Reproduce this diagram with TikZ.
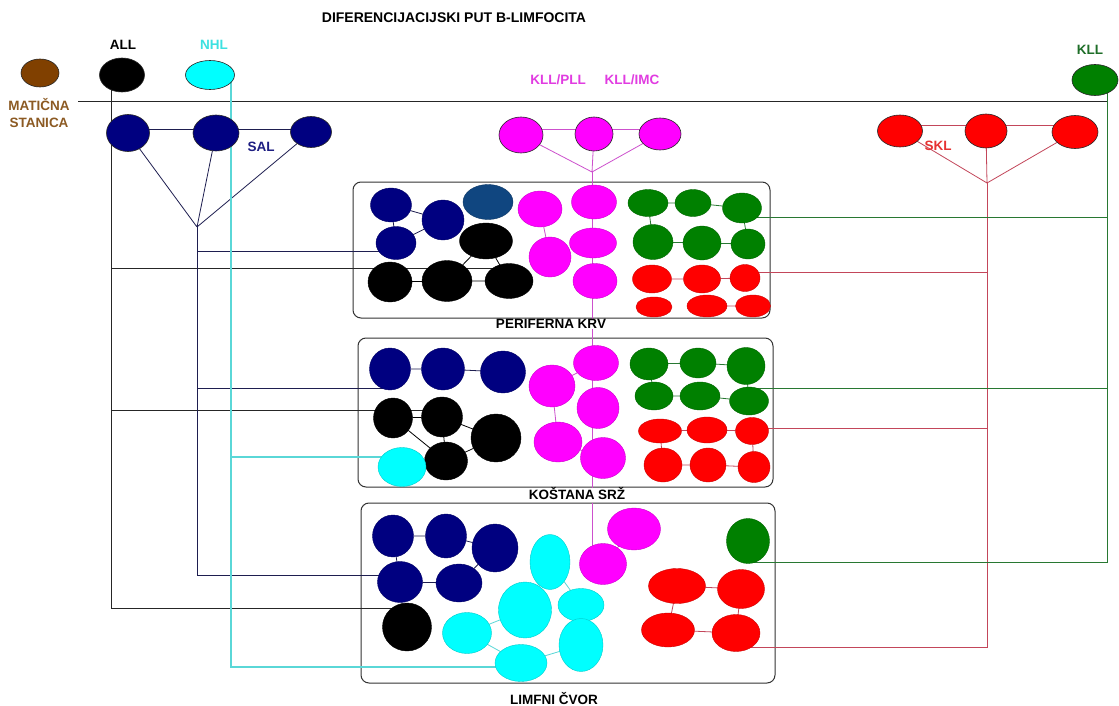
\documentclass[tikz,border=0pt]{standalone}
\usepackage{fontspec}
\setmainfont{Liberation Sans}
\usetikzlibrary{shapes.geometric,calc}
\pgfdeclarelayer{bg}
\pgfsetlayers{bg,main}
\definecolor{cnavy}{RGB}{0,0,128}
\definecolor{csteel}{RGB}{16,70,128}
\definecolor{cmag}{RGB}{255,0,255}
\definecolor{cgrn}{RGB}{0,128,0}
\definecolor{cred}{RGB}{255,0,0}
\definecolor{ccyan}{RGB}{0,255,255}
\definecolor{cbrown}{RGB}{128,64,0}
\definecolor{lnavy}{RGB}{30,30,80}
\definecolor{lcyan}{RGB}{90,215,215}
\definecolor{lred}{RGB}{195,70,90}
\definecolor{lgrn}{RGB}{40,120,50}
\definecolor{lmag}{RGB}{205,80,205}
\definecolor{tbrown}{RGB}{140,90,35}
\definecolor{tcyan}{RGB}{60,225,225}
\definecolor{tmag}{RGB}{225,60,225}
\definecolor{tgrn}{RGB}{30,110,40}
\definecolor{tnavy}{RGB}{30,30,130}
\definecolor{tred}{RGB}{230,50,50}
\newcommand\blob[6]{\node[ell=#2,minimum width=#5pt,minimum height=#6pt] (#1) at (#3,#4) {};}
\newcommand\tblob[6]{\node[tell=#2,minimum width=#5pt,minimum height=#6pt] (#1) at (#3,#4) {};}
\begin{document}
\begin{tikzpicture}[x=1pt,y=-1pt,
 ell/.style={ellipse,inner sep=0pt,outer sep=0pt,fill=#1,draw=#1!80!black,line width=0.4pt},
 tell/.style={ellipse,inner sep=0pt,outer sep=0pt,fill=#1,draw=black!85,line width=0.6pt},
 lbl/.style={font=\bfseries\fontsize{13.5}{17}\selectfont,inner sep=0pt,align=center},
 boxst/.style={draw=black!80,line width=1pt,rounded corners=8pt,inner sep=0pt},
 bus/.style={draw=#1,line width=1pt},
 cn/.style={draw=#1,line width=0.8pt}]
\useasboundingbox (0,0) rectangle (1119,706);
\begin{pgfonlayer}{bg}
 \fill[white] (0,0) rectangle (1119,706);
 \node[boxst,minimum width=417pt,minimum height=136pt] (box1) at (561.5,250) {};
 \node[boxst,minimum width=415pt,minimum height=149pt] (box2) at (565.5,412.5) {};
 \node[boxst,minimum width=414pt,minimum height=180pt] (box3) at (568,593) {};
\end{pgfonlayer}
% top row
\tblob{STEM}{cbrown}{40}{73}{38}{28}
\tblob{ALL}{black}{122}{75}{45}{34}
\tblob{NHL}{ccyan}{210}{75}{49}{29}
\tblob{SAL1}{cnavy}{128}{133}{43}{37}
\tblob{SAL2}{cnavy}{216}{133}{46}{36}
\tblob{SAL3}{cnavy}{311}{132}{41}{31}
\tblob{MT1}{cmag}{521}{135}{44}{36}
\tblob{MT2}{cmag}{594}{134}{38}{34}
\tblob{MT3}{cmag}{660}{134}{42}{32}
\tblob{SR1}{cred}{900}{131}{45}{32}
\tblob{SR2}{cred}{986}{131}{42}{34}
\tblob{SR3}{cred}{1075}{132}{46}{33}
\tblob{KLLe}{cgrn}{1095}{80}{46}{31}
% box 1
\blob{A}{cnavy}{391}{205}{41}{34}
\blob{B}{cnavy}{443}{220}{42}{40}
\blob{C}{cnavy}{396}{243}{40}{33}
\blob{D}{csteel}{488}{202}{50}{35}
\blob{E}{black}{486}{241}{53}{36}
\blob{F}{black}{390}{282}{44}{40}
\blob{G}{black}{447}{281}{50}{41}
\blob{H}{black}{509}{281}{48}{35}
\blob{M1}{cmag}{540}{209}{44}{36}
\blob{M2}{cmag}{594}{202}{45}{34}
\blob{M3}{cmag}{550}{257}{42}{40}
\blob{M4}{cmag}{593}{243}{47}{30}
\blob{M5}{cmag}{595}{281}{44}{35}
\blob{G1}{cgrn}{648}{203}{40}{27}
\blob{G2}{cgrn}{693}{203}{36}{27}
\blob{G3}{cgrn}{742}{208}{39}{30}
\blob{G4}{cgrn}{653}{242}{40}{35}
\blob{G5}{cgrn}{702}{243}{38}{34}
\blob{G6}{cgrn}{748}{244}{34}{30}
\blob{R1}{cred}{652}{279}{39}{28}
\blob{R2}{cred}{702}{279}{37}{28}
\blob{R3}{cred}{745}{278}{30}{27}
\blob{R4}{cred}{654}{307}{36}{20}
\blob{R5}{cred}{707}{306}{40}{22}
\blob{R6}{cred}{753}{306}{35}{22}
% box 2
\blob{N1}{cnavy}{390}{369}{41}{42}
\blob{N2}{cnavy}{443}{369}{43}{42}
\blob{N3}{cnavy}{503}{372}{45}{42}
\blob{K1}{black}{393}{418}{39}{40}
\blob{K2}{black}{442}{417}{41}{40}
\blob{K3}{black}{496}{438}{50}{48}
\blob{K4}{black}{446}{461}{43}{38}
\blob{C1}{ccyan}{402}{467}{48}{39}
\blob{P1}{cmag}{596}{363}{45}{35}
\blob{P2}{cmag}{552}{386}{46}{42}
\blob{P3}{cmag}{598}{408}{42}{41}
\blob{P4}{cmag}{558}{442}{48}{40}
\blob{P5}{cmag}{603}{458}{45}{41}
\blob{g1}{cgrn}{649}{364}{38}{32}
\blob{g2}{cgrn}{698}{363}{36}{30}
\blob{g3}{cgrn}{746}{366}{38}{37}
\blob{g4}{cgrn}{654}{396}{38}{28}
\blob{g5}{cgrn}{700}{396}{40}{28}
\blob{g6}{cgrn}{749}{401}{39}{28}
\blob{r1}{cred}{660}{431}{43}{24}
\blob{r2}{cred}{707}{430}{40}{26}
\blob{r3}{cred}{752}{431}{33}{27}
\blob{r4}{cred}{663}{465}{38}{34}
\blob{r5}{cred}{708}{465}{36}{34}
\blob{r6}{cred}{754}{467}{32}{31}
% box 3
\blob{n1}{cnavy}{393}{536}{41}{42}
\blob{n2}{cnavy}{446}{536}{41}{44}
\blob{n3}{cnavy}{495}{548}{46}{48}
\blob{n4}{cnavy}{400}{582}{45}{41}
\blob{n5}{cnavy}{459}{583}{46}{38}
\blob{k}{black}{407}{627}{49}{48}
\blob{c1}{ccyan}{550}{562}{40}{55}
\blob{c2}{ccyan}{525}{610}{53}{56}
\blob{c3}{ccyan}{467}{633}{49}{41}
\blob{c4}{ccyan}{581}{605}{46}{33}
\blob{c5}{ccyan}{581}{645}{44}{53}
\blob{c6}{ccyan}{521}{663}{52}{37}
\blob{q1}{cmag}{603}{564}{47}{41}
\blob{q2}{cmag}{634}{529}{53}{42}
\blob{gb}{cgrn}{748}{541}{43}{45}
\blob{s1}{cred}{677}{586}{57}{35}
\blob{s2}{cred}{741}{589}{47}{39}
\blob{s3}{cred}{668}{630}{53}{34}
\blob{s4}{cred}{736}{633}{48}{37}
% hubs
\coordinate (salhub) at (197,227);
\coordinate (klhub) at (592,172);
\coordinate (sklhub) at (987,183);
\coordinate (stemL) at (78,102);
\coordinate (stemR) at (1107,102);
\begin{pgfonlayer}{bg}
 \draw[bus=black!85] (stemL) -- (stemR);
 % ALL
 \draw[bus=black!85] ($(ALL)+(-11,0)$) |- ($(H)+(0,-13)$);
 \draw[bus=black!85] ($(ALL)+(-11,0)$) |- ($(K2)+(0,-7)$);
 \draw[bus=black!85] ($(ALL)+(-11,0)$) |- ($(k)+(0,-19)$);
 % SAL
 \draw[cn=lnavy] ($(SAL1)+(0,-4)$) -- ($(SAL3)+(0,-3)$);
 \draw[cn=lnavy] (salhub) -- (SAL1) (salhub) -- (SAL2) (salhub) -- (SAL3);
 \draw[bus=lnavy] (salhub) |- ($(C)+(0,8)$);
 \draw[bus=lnavy] (salhub) |- ($(N1)+(0,19)$);
 \draw[bus=lnavy] (salhub) |- ($(n4)+(0,-7)$);
 % NHL
 \draw[lcyan,line width=1.6pt] ($(NHL)+(21,0)$) |- ($(C1)+(0,-10)$);
 \draw[lcyan,line width=1.6pt] ($(NHL)+(21,0)$) |- ($(c6)+(0,4)$);
 % KLL/PLL, KLL/IMC
 \draw[cn=lmag] ($(MT1)+(0,-6)$) -- ($(MT3)+(0,-5)$);
 \draw[cn=lmag] (klhub) -- (MT1) (klhub) -- (MT2) (klhub) -- (MT3);
 \draw[bus=lmag] (klhub) -- (klhub |- box2.south);
 \draw[bus=lmag] (klhub |- box3.north) -- (klhub |- q1);
 % SKL
 \draw[cn=lred] ($(SR1)+(0,-6)$) -- ($(SR3)+(0,-7)$);
 \draw[cn=lred] (sklhub) -- (SR1) (sklhub) -- (SR2) (sklhub) -- (SR3);
 \draw[bus=lred] (sklhub) |- ($(R3)+(0,-6)$);
 \draw[bus=lred] (sklhub) |- ($(r3)+(0,-3)$);
 \draw[bus=lred] (sklhub) |- ($(s4)+(0,14)$);
 % KLL
 \draw[bus=lgrn] ($(KLLe)+(12,0)$) |- ($(G3)+(0,9)$);
 \draw[bus=lgrn] ($(KLLe)+(12,0)$) |- ($(g6)+(0,-13)$);
 \draw[bus=lgrn] ($(KLLe)+(12,0)$) |- ($(gb)+(0,21)$);
 % box 1 internals
 \draw[cn=lnavy] (A) -- (B) (A) -- (C) (C) -- (B);
 \draw[cn=black] (G) -- (E) (E) -- (H) (F) -- (G) (G) -- (H);
 \draw[cn=lmag] (M1) -- (M3);
 \draw[cn=lgrn] (G1) -- (G2) (G2) -- (G3) (G1) -- (G4) (G4) -- (G5) (G5) -- (G6) (G3) -- (G6);
 \draw[cn=lred] (R1) -- (R2) (R2) -- (R3) (R5) -- (R6);
 % box 2 internals
 \draw[cn=lnavy] (N1) -- (N2) (N2) -- (N3);
 \draw[cn=black] (K1) -- (K2) (K2) -- (K4) (K1) -- (K4) (K2) -- (K3) (K4) -- (K3);
 \draw[cn=lmag] (P1) -- (P2) (P2) -- (P4) (P4) -- (P5);
 \draw[cn=lgrn] (g1) -- (g2) (g2) -- (g3) (g1) -- (g4) (g4) -- (g5) (g5) -- (g6) (g3) -- (g6);
 \draw[cn=lred] (r1) -- (r2) (r2) -- (r3) (r1) -- (r4) (r4) -- (r5) (r5) -- (r6) (r3) -- (r6);
 % box 3 internals
 \draw[cn=lnavy] (n1) -- (n2) (n2) -- (n3) (n1) -- (n4) (n4) -- (n5) (n5) -- (n3);
 \draw[cn=lcyan] (c1) -- (c2) (c1) -- (c4) (c2) -- (c3) (c3) -- (c6) (c6) -- (c5);
 \draw[cn=lmag] (q1) -- (q2);
 \draw[cn=lred] (s1) -- (s2) (s1) -- (s3) (s2) -- (s4) (s3) -- (s4);
\end{pgfonlayer}
% labels
\node[lbl,font=\bfseries\fontsize{14}{17}\selectfont] (title) at (454,18) {DIFERENCIJACIJSKI PUT B-LIMFOCITA};
\node[lbl] (tALL) at (123,45) {ALL};
\node[lbl,text=tcyan] (tNHL) at (214,45) {NHL};
\node[lbl,text=tbrown] (tMAT) at (39,113) {MATIČNA\\STANICA};
\node[lbl,text=tmag] (tPLL) at (558,80) {KLL/PLL};
\node[lbl,text=tmag] (tIMC) at (632,80) {KLL/IMC};
\node[lbl,text=tgrn] (tKLL) at (1090,50) {KLL};
\node[lbl,text=tnavy] (tSAL) at (261,147) {SAL};
\node[lbl,text=tred] (tSKL) at (938,146) {SKL};
\node[lbl,fill=white] (tPK) at (551,324) {PERIFERNA KRV};
\node[lbl] (tKS) at (577,494) {KOŠTANA SRŽ};
\node[lbl] (tLC) at (554,699) {LIMFNI ČVOR};
\end{tikzpicture}
\end{document}
